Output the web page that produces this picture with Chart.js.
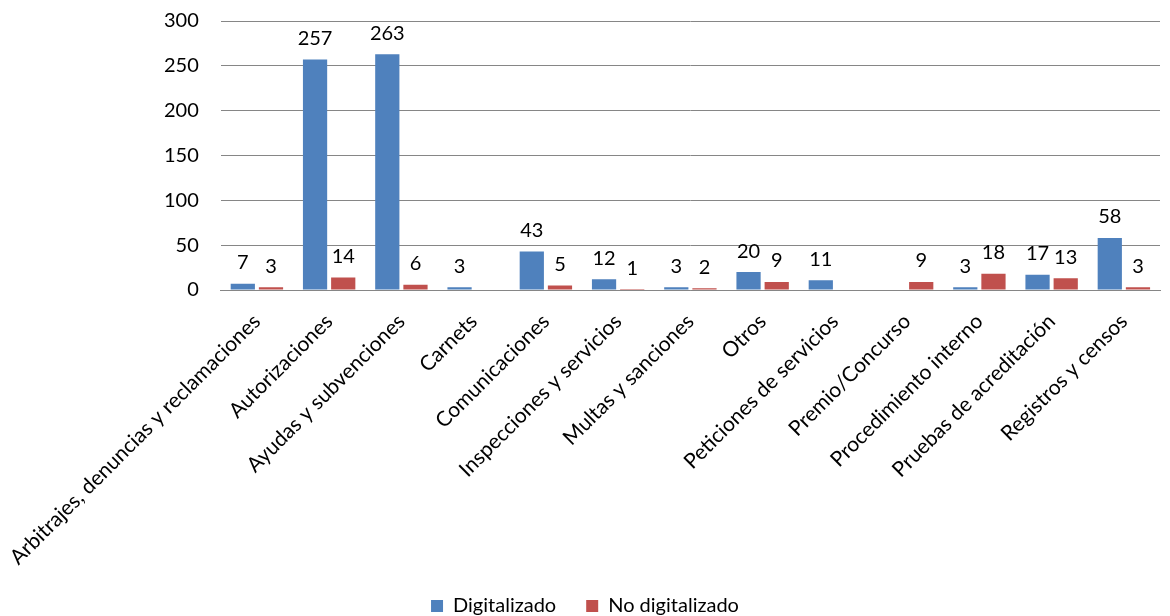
<!DOCTYPE html>
<html lang="es">
<head>
  <meta charset="UTF-8">
  <title>Digitalizado / No digitalizado</title>
  <script src="https://cdn.jsdelivr.net/npm/chart.js"></script>
  <style>
    html, body { margin: 0; padding: 0; background: #ffffff; }
    .chart-box { width: 1170px; height: 616px; }
  </style>
</head>
<body>
  <div class="chart-box">
    <canvas id="procChart"></canvas>
  </div>

  <script>
    const categorias = [
      'Arbitrajes, denuncias y reclamaciones',
      'Autorizaciones',
      'Ayudas y subvenciones',
      'Carnets',
      'Comunicaciones',
      'Inspecciones y servicios',
      'Multas y sanciones',
      'Otros',
      'Peticiones de servicios',
      'Premio/Concurso',
      'Procedimiento interno',
      'Pruebas de acreditación',
      'Registros y censos'
    ];
    const digitalizado   = [7, 257, 263, 3, 43, 12, 3, 20, 11, null, 3, 17, 58];
    const noDigitalizado = [3, 14, 6, null, 5, 1, 2, 9, null, 9, 18, 13, 3];
    const ticksY = [0, 50, 100, 150, 200, 250, 300];

    const fuente = 'Lato, "Open Sans", sans-serif';

    // etiquetas de valor encima de cada barra
    const valoresPlugin = {
      id: 'valores',
      afterDatasetsDraw(chart) {
        const ctx = chart.ctx;
        ctx.save();
        ctx.font = '20px ' + fuente;
        ctx.fillStyle = '#000000';
        ctx.textAlign = 'center';
        ctx.textBaseline = 'bottom';
        chart.data.datasets.forEach((ds, i) => {
          const meta = chart.getDatasetMeta(i);
          meta.data.forEach((bar, j) => {
            const v = ds.data[j];
            if (v === null || v === undefined) return;
            ctx.fillText(String(v), bar.x, bar.y - 11);
          });
        });
        ctx.restore();
      }
    };

    const ctx = document.getElementById('procChart').getContext('2d');
    new Chart(ctx, {
      type: 'bar',
      data: {
        labels: categorias,
        datasets: [
          {
            label: 'Digitalizado',
            data: digitalizado,
            backgroundColor: '#4F81BD'
          },
          {
            label: 'No digitalizado',
            data: noDigitalizado,
            backgroundColor: '#C0504D'
          }
        ]
      },
      options: {
        responsive: true,
        maintainAspectRatio: false,
        animation: false,
        categoryPercentage: 0.78,
        barPercentage: 0.86,
        layout: {
          padding: { left: 10, right: 10, top: 21, bottom: -10 }
        },
        plugins: {
          legend: {
            position: 'bottom',
            labels: {
              boxWidth: 12,
              boxHeight: 12,
              padding: 30,
              color: '#000000',
              font: { family: fuente, size: 20 }
            }
          },
          tooltip: { enabled: false }
        },
        scales: {
          y: {
            min: 0,
            max: 300,
            afterBuildTicks: function(scale) {
              scale.ticks = ticksY.map(v => ({ value: v }));
            },
            ticks: {
              color: '#000000',
              padding: 4,
              font: { family: fuente, size: 20 }
            },
            grid: {
              color: '#868686',
              lineWidth: 1,
              drawTicks: true,
              tickLength: 18,
              tickColor: 'rgba(0,0,0,0)'
            },
            border: { display: false }
          },
          x: {
            // las etiquetas giradas pueden bajar un poco sobre la zona de la leyenda
            afterFit: function(scale) {
              scale.height -= 15;
            },
            ticks: {
              color: '#000000',
              maxRotation: 45,
              minRotation: 45,
              autoSkip: false,
              padding: 11,
              font: { family: fuente, size: 21 }
            },
            grid: { display: false },
            border: { display: true, color: '#868686' }
          }
        }
      },
      plugins: [valoresPlugin]
    });
  </script>
</body>
</html>
